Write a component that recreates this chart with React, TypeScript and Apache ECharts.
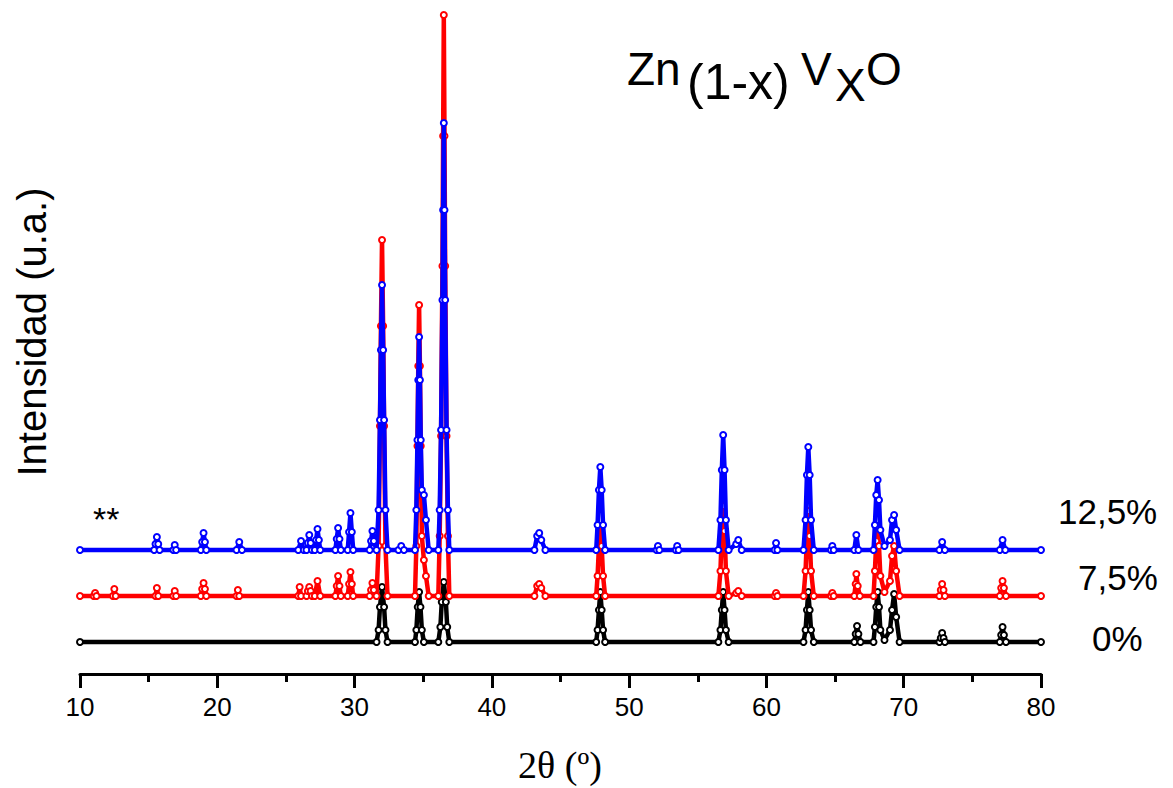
import React, { useEffect, useRef } from "react";
import * as echarts from "echarts";

const xTicks = [10, 20, 30, 40, 50, 60, 70, 80];
const offsets = { black: 32, red: 78, blue: 124 };
const seriesNames = ["0%", "7,5%", "12,5%"];

const black: number[][] = [[10,0],[31.6,0],[31.75,12],[31.85,35],[32.0,55],[32.15,35],[32.25,12],[32.4,0],[34.4,0],[34.5,12],[34.6,35],[34.7,50],[34.8,35],[34.9,12],[35.05,0],[36.1,0],[36.25,15],[36.35,40],[36.5,60],[36.65,40],[36.75,15],[36.9,0],[47.6,0],[47.7,12],[47.8,32],[47.9,50],[48.0,32],[48.1,12],[48.25,0],[56.5,0],[56.65,12],[56.75,32],[56.85,50],[56.95,32],[57.05,12],[57.25,0],[62.7,0],[62.85,12],[62.95,32],[63.05,50],[63.15,32],[63.25,12],[63.45,0],[66.4,0],[66.5,8],[66.6,16],[66.7,8],[66.85,0],[67.8,0],[67.9,15],[68.0,35],[68.1,50],[68.2,35],[68.3,12],[68.6,2],[69.0,12],[69.15,32],[69.3,48],[69.45,25],[69.7,0],[72.6,0],[72.7,4],[72.8,9],[72.9,4],[73.0,0],[77.0,0],[77.1,7],[77.2,15],[77.3,7],[77.45,0],[80,0]];

const red: number[][] = [[10,0],[11.0,0],[11.1,3],[11.2,0],[12.4,0],[12.5,7],[12.6,0],[15.5,0],[15.6,8],[15.7,0],[16.8,0],[16.9,5],[17.0,0],[18.8,0],[18.9,7],[19.0,13],[19.1,7],[19.2,0],[21.4,0],[21.5,6],[21.6,0],[25.9,0],[26.0,9],[26.1,0],[26.5,0],[26.6,5],[26.7,9],[26.8,5],[26.9,0],[27.1,0],[27.3,15],[27.5,0],[28.6,0],[28.7,10],[28.8,20],[28.9,10],[29.0,0],[29.5,0],[29.6,12],[29.7,24],[29.8,12],[29.9,0],[31.1,0],[31.2,6],[31.3,13],[31.4,6],[31.6,0],[31.75,50],[31.85,170],[31.92,270],[32.0,356],[32.08,270],[32.15,170],[32.25,50],[32.4,0],[34.4,0],[34.5,50],[34.58,150],[34.64,230],[34.7,291],[34.76,230],[34.82,150],[34.9,60],[35.05,36],[35.2,20],[35.4,0],[36.1,0],[36.2,60],[36.3,160],[36.4,330],[36.45,460],[36.5,581],[36.55,460],[36.6,330],[36.7,160],[36.8,60],[36.9,0],[43.1,0],[43.3,10],[43.45,12],[43.6,8],[43.9,0],[47.6,0],[47.7,20],[47.8,50],[47.9,70],[48.0,50],[48.1,20],[48.25,0],[56.5,0],[56.65,25],[56.75,65],[56.85,90],[56.95,65],[57.05,25],[57.25,0],[57.8,3],[57.95,5],[58.2,0],[60.6,0],[60.7,3],[60.8,0],[62.7,0],[62.85,25],[62.95,60],[63.05,85],[63.15,60],[63.25,25],[63.45,0],[64.7,0],[64.8,3],[64.9,0],[66.4,0],[66.5,12],[66.55,22],[66.65,10],[66.8,0],[67.8,0],[67.9,25],[68.0,55],[68.1,70],[68.2,50],[68.3,20],[68.6,4],[69.0,15],[69.15,40],[69.3,50],[69.45,25],[69.7,0],[72.6,0],[72.7,6],[72.8,12],[72.9,6],[73.0,0],[77.0,0],[77.1,8],[77.2,15],[77.3,8],[77.45,0],[80,0]];

const blue: number[][] = [[10,0],[15.4,0],[15.5,6],[15.6,13],[15.7,6],[15.8,0],[16.8,0],[16.9,5],[17.0,0],[18.8,0],[18.9,8],[19.0,17],[19.1,8],[19.2,0],[21.4,0],[21.6,8],[21.8,0],[25.9,0],[26.1,9],[26.3,0],[26.5,0],[26.6,7],[26.7,15],[26.8,7],[26.9,0],[27.1,0],[27.2,10],[27.3,21],[27.4,10],[27.5,0],[28.6,0],[28.7,11],[28.8,22],[28.9,11],[29.0,0],[29.5,0],[29.6,18],[29.7,37],[29.8,18],[29.9,0],[31.1,0],[31.2,9],[31.3,19],[31.4,9],[31.6,0],[31.75,40],[31.85,130],[31.92,200],[32.0,265],[32.08,200],[32.15,130],[32.25,40],[32.4,0],[33.2,0],[33.4,4],[33.6,0],[34.4,0],[34.5,40],[34.58,110],[34.64,170],[34.7,213],[34.76,170],[34.82,110],[34.9,60],[35.05,55],[35.2,30],[35.4,0],[36.1,0],[36.2,40],[36.3,120],[36.4,250],[36.45,340],[36.5,427],[36.55,340],[36.6,250],[36.7,120],[36.8,40],[36.9,0],[43.1,0],[43.3,14],[43.45,17],[43.6,10],[43.9,0],[47.6,0],[47.7,25],[47.8,60],[47.9,83],[48.0,60],[48.1,25],[48.25,0],[52.0,0],[52.1,4],[52.2,0],[53.4,0],[53.5,4],[53.6,0],[56.5,0],[56.65,30],[56.75,80],[56.85,115],[56.95,80],[57.05,30],[57.25,0],[57.8,6],[57.95,10],[58.2,0],[60.6,0],[60.7,7],[60.8,0],[62.7,0],[62.85,30],[62.95,75],[63.05,103],[63.15,75],[63.25,30],[63.45,0],[64.7,0],[64.8,4],[64.9,0],[66.4,0],[66.55,15],[66.7,0],[67.8,0],[67.9,25],[68.0,55],[68.1,70],[68.2,50],[68.3,20],[68.6,4],[69.0,10],[69.15,30],[69.3,35],[69.45,20],[69.7,0],[72.6,0],[72.8,8],[73.0,0],[77.0,0],[77.2,10],[77.4,0],[80,0]];

const SANS = "'Liberation Sans', Arial, sans-serif";
const SERIF = "'Liberation Serif', 'Times New Roman', serif";

function shift(d: number[][], off: number) {
  return d.map((p) => [p[0], p[1] + off]);
}

function mkSeries(name: string, d: number[][], off: number, color: string, z: number) {
  return {
    name,
    type: "line",
    data: shift(d, off),
    symbol: "emptyCircle",
    symbolSize: 6,
    showAllSymbol: true,
    z,
    lineStyle: { color, width: 4.5 },
    itemStyle: { color, borderColor: color, borderWidth: 1 },
    emphasis: { disabled: true },
  };
}

function txt(text: string, x: number, y: number, fontSize: number, extra: any = {}) {
  return {
    type: "text",
    x,
    y,
    ...extra,
    style: { text, fontSize, fontFamily: SANS, fill: "#000", verticalAlign: "middle", ...(extra.style || {}) },
  };
}

export default function App() {
  const ref = useRef<HTMLDivElement>(null);
  useEffect(() => {
    document.body.style.margin = "0";
    const chart = echarts.init(ref.current!, null, { renderer: "svg" });
    chart.setOption({
      animation: false,
      backgroundColor: "#ffffff",
      grid: { left: 80, right: 132, top: 10, bottom: 114 },
      xAxis: {
        type: "value",
        min: xTicks[0],
        max: xTicks[xTicks.length - 1],
        interval: 10,
        axisLine: { show: true, lineStyle: { color: "#000", width: 3 } },
        axisTick: { show: true, length: 14, lineStyle: { color: "#000", width: 3 } },
        minorTick: { show: true, splitNumber: 2, length: 8, lineStyle: { color: "#000", width: 3 } },
        splitLine: { show: false },
        axisLabel: { fontSize: 26, color: "#000", fontFamily: SANS, margin: 20 },
      },
      yAxis: {
        type: "value",
        min: 0,
        max: 664,
        show: false,
        splitLine: { show: false },
      },
      series: [
        mkSeries(seriesNames[0], black, offsets.black, "#000000", 2),
        mkSeries(seriesNames[1], red, offsets.red, "#ff0000", 3),
        mkSeries(seriesNames[2], blue, offsets.blue, "#0000ff", 4),
      ],
      graphic: [
        txt("Zn", 627, 69, 46),
        txt("(1-x)", 687, 82, 50),
        txt("V", 801, 69, 46),
        txt("X", 835, 85, 46),
        txt("O", 866, 69, 46),
        txt("**", 93, 519, 34),
        txt(seriesNames[2], 1058, 511.5, 35),
        txt(seriesNames[1], 1078, 577, 35),
        txt(seriesNames[0], 1092, 638.5, 35),
        txt("Intensidad (u.a.)", 32, 332, 40, { rotation: Math.PI / 2, style: { align: "center" } }),
        txt("2θ (º)", 560, 765, 38, { style: { align: "center", fontFamily: SERIF } }),
      ],
    });
    return () => chart.dispose();
  }, []);
  return <div ref={ref} style={{ width: 1173, height: 788 }} />;
}
